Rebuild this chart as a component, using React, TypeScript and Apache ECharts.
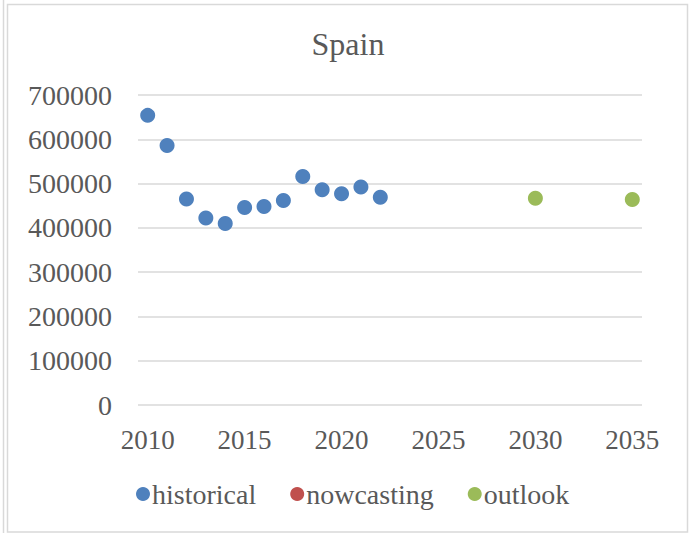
import React, { useEffect, useRef } from "react";
import * as echarts from "echarts";

const title = "Spain";
const historicalYears = [2010, 2011, 2012, 2013, 2014, 2015, 2016, 2017, 2018, 2019, 2020, 2021, 2022];
const historicalValues = [654000, 586000, 465000, 422000, 410000, 446000, 448000, 462000, 516000, 486000, 477000, 492000, 469000];
const nowcastingYears: number[] = [];
const nowcastingValues: number[] = [];
const outlookYears = [2030, 2035];
const outlookValues = [467000, 464000];
const xTicks = [2010, 2015, 2020, 2025, 2030, 2035];

const pairs = (xs: number[], ys: number[]) => xs.map((x, i) => [x, ys[i]]);

export default function App() {
  const ref = useRef<HTMLDivElement>(null);
  useEffect(() => {
    document.body.style.margin = "0";
    const chart = echarts.init(ref.current!, null, { renderer: "svg" });
    const font = "'Liberation Serif', serif";
    const textColor = "#595959";
    chart.setOption({
      animation: false,
      backgroundColor: "#ffffff",
      title: {
        text: title,
        left: 343,
        textAlign: "center",
        top: 23,
        textStyle: { fontFamily: font, fontSize: 32, fontWeight: "normal", color: textColor },
      },
      grid: { left: 138, right: 56, top: 95, bottom: 128, containLabel: false },
      xAxis: {
        type: "value",
        min: 2009.5,
        max: 2035.5,
        axisLine: { show: false },
        axisTick: { show: false },
        splitLine: { show: false },
        axisLabel: {
          customValues: xTicks,
          margin: 21,
          fontFamily: font,
          fontSize: 27,
          color: textColor,
          formatter: (v: number) => String(v),
        },
      },
      yAxis: {
        type: "value",
        min: 0,
        max: 700000,
        interval: 100000,
        axisLine: { show: false },
        axisTick: { show: false },
        splitLine: { show: true, lineStyle: { color: "#d9d9d9", width: 1.5 } },
        axisLabel: {
          margin: 26,
          fontFamily: font,
          fontSize: 28,
          color: textColor,
          formatter: (v: number) => String(v),
        },
      },
      legend: {
        left: 131,
        top: 475,
        icon: "circle",
        itemWidth: 14,
        itemHeight: 14,
        itemGap: 34,
        textStyle: { fontFamily: font, fontSize: 28, color: textColor, padding: [0, 0, 0, -3] },
        data: ["historical", "nowcasting", "outlook"],
      },
      series: [
        {
          name: "historical",
          type: "scatter",
          symbolSize: 15,
          itemStyle: { color: "#4f81bd", opacity: 1 },
          data: pairs(historicalYears, historicalValues),
        },
        {
          name: "nowcasting",
          type: "scatter",
          symbolSize: 15,
          itemStyle: { color: "#c0504d", opacity: 1 },
          data: pairs(nowcastingYears, nowcastingValues),
        },
        {
          name: "outlook",
          type: "scatter",
          symbolSize: 15,
          itemStyle: { color: "#9bbb59", opacity: 1 },
          data: pairs(outlookYears, outlookValues),
        },
      ],
      graphic: [
        { type: "line", shape: { x1: 3.5, y1: 0, x2: 3.5, y2: 533 }, style: { stroke: "#d9d9d9", lineWidth: 1.5 } },
        { type: "rect", shape: { x: 7.5, y: 4.5, width: 680, height: 527.5 }, style: { fill: "none", stroke: "#d9d9d9", lineWidth: 1.5 } },
      ],
    });
    return () => chart.dispose();
  }, []);
  return <div ref={ref} style={{ width: 698, height: 533 }} />;
}
